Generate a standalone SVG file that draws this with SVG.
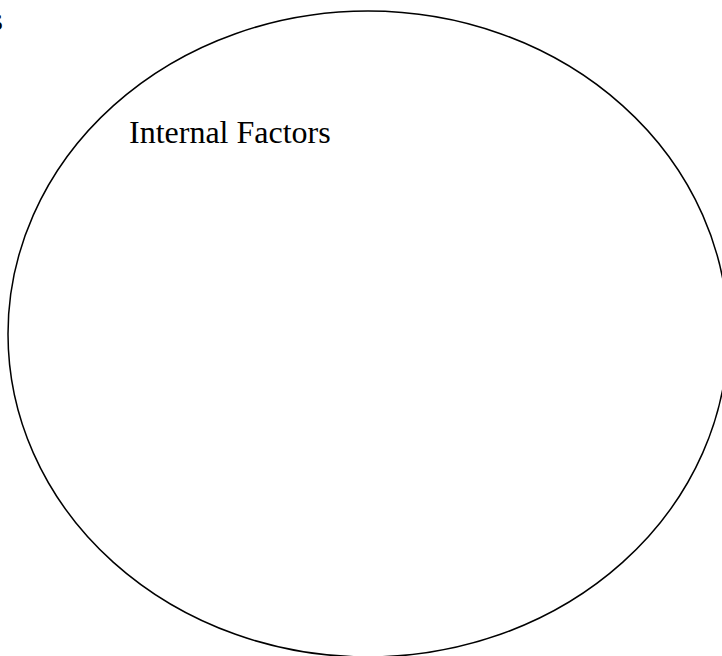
<svg xmlns="http://www.w3.org/2000/svg" width="722" height="656" viewBox="0 0 722 656">
<style>
.t{font-family:"Liberation Serif","Times New Roman",serif;font-size:32px;fill:#000}
.e{fill:none;stroke:#000;stroke-width:1.5}
</style>
<rect width="722" height="656" fill="#fff"/>
<g id="outer-label"><text class="t" x="-9.5" y="30">s</text></g>
<g id="internal-factors">
<ellipse class="e" cx="368" cy="334" rx="360" ry="323"/>
<text class="t" x="129" y="143">Internal Factors</text>
</g>
<g id="connectors"/>
</svg>
